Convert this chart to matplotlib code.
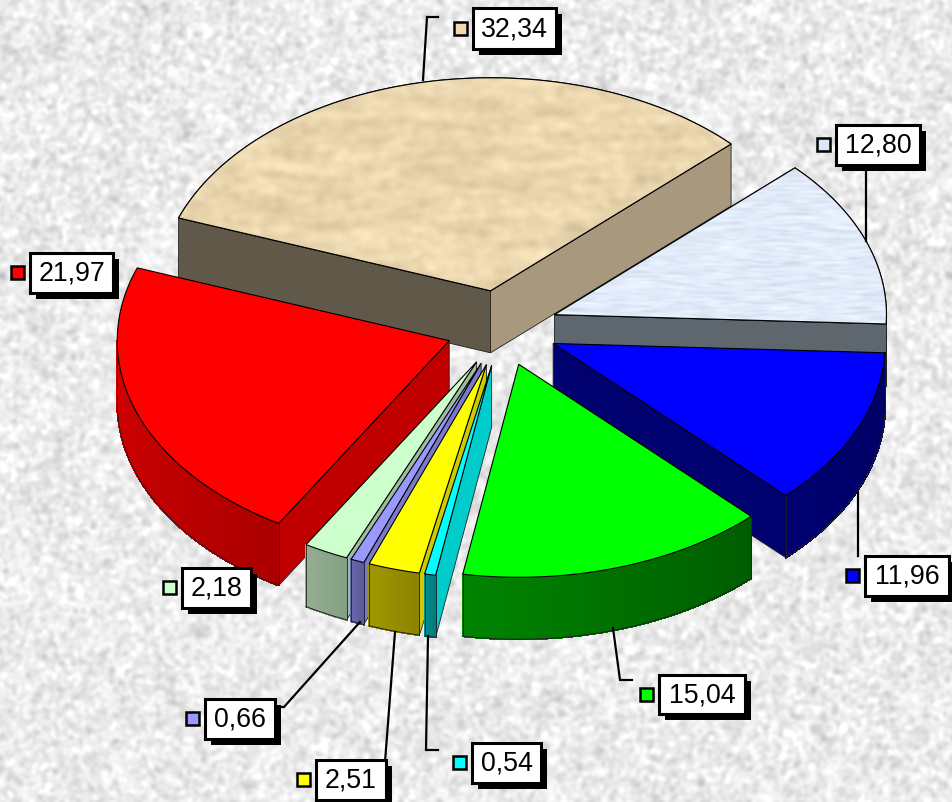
# 3D exploded pie, drawn by hand in pixel coordinates
import numpy as np
import matplotlib
matplotlib.use('Agg')
import matplotlib.pyplot as plt
from matplotlib.patches import Polygon, Rectangle

plt.rcParams['font.family'] = ['Liberation Sans', 'DejaVu Sans']

# data, clockwise from the first slice
values = [32.34, 12.80, 11.96, 15.04, 0.54, 2.51, 0.66, 2.18, 21.97]

# styles
top_colors = ['#ebd7af', '#e1ebfa', '#0000ff', '#00ff00', '#00ffff', '#ffff00', '#9999ff', '#ccffcc', '#ff0000']
key_colors = ['#f0d8b0', '#dce8fa', '#0000ff', '#00ff00', '#00ffff', '#ffff00', '#9999ff', '#ccffcc', '#ff0000']
cut_colors = ['#605848', '#5e666e', '#00006e', '#006000', '#00cccc', '#cccc00', '#7a7acc', '#a0bca0', '#c00000']
cut_right = ['#a8987e', '#5e666e', '#00006e', '#006000', '#00cccc', '#cccc00', '#7a7acc', '#a0bca0', '#c00000']
wall_left = ['#605848', '#5e666e', '#000070', '#008400', '#009090', '#a09800', '#6868ac', '#96ae92', '#d40000']
wall_right = ['#605848', '#5e666e', '#000064', '#005c00', '#007c7c', '#8c8400', '#5c5c9c', '#84a084', '#ac0000']

# back to front
draw_order = [0, 1, 2, 8, 7, 6, 5, 4, 3]

# layout: label box (left, top, right, bottom) and leader lines
boxes = [(473, 8, 556, 49), (836, 125, 920, 165), (865, 556, 949, 596), (659, 675, 745, 714),
         (472, 743, 541, 783), (316, 760, 386, 800), (205, 699, 275, 739), (182, 568, 251, 608), (30, 253, 113, 293)]
leaders = [[(423, 80), (427, 17), (438, 17)], [(866, 241), (866, 165)], [(858, 492), (858, 556)],
           [(613, 628), (620, 680), (632, 680)], [(428, 636), (426, 750), (438, 750)],
           [(395, 632), (385, 762)], [(360, 622), (284, 707), (275, 707)], None, None]

cx, cy = 502, 328
rx, ry = 332, 213
ex, ey = 56, 38
depth = 62
start = -70


def smooth_noise(h, w, sx, sy, seed):
    # texture only, blurred in frequency space
    rng = np.random.default_rng(seed)
    n = rng.standard_normal((h, w))
    fy = np.fft.fftfreq(h)[:, None]
    fx = np.fft.fftfreq(w)[None, :]
    g = np.exp(-2 * np.pi ** 2 * ((fx * sx) ** 2 + (fy * sy) ** 2))
    n = np.fft.ifft2(np.fft.fft2(n) * g).real
    return n / n.std()


def rim(ax_, ay, t):
    t = np.radians(t)
    return ax_ + rx * np.sin(t), ay - ry * np.cos(t)


def mix(c1, c2, f):
    a = np.array(matplotlib.colors.to_rgb(c1))
    b = np.array(matplotlib.colors.to_rgb(c2))
    return a + (b - a) * f


fig = plt.figure(figsize=(9.52, 8.02), dpi=100)
ax = fig.add_axes([0, 0, 1, 1])
ax.set_xlim(0, 952)
ax.set_ylim(802, 0)
ax.axis('off')

# paper background
bg = 235 + 9 * smooth_noise(802, 952, 2.2, 2.2, 1) + 2 * smooth_noise(802, 952, 9, 9, 2)
ax.imshow(np.clip(bg, 0, 255), cmap='gray', vmin=0, vmax=255, extent=(0, 952, 802, 0), aspect='auto', zorder=0)

# slice angles
edges = start + np.concatenate([[0], np.cumsum(values)]) * 3.6

z = 1
for i in draw_order:
    t0, t1 = edges[i], edges[i + 1]
    mid = np.radians((t0 + t1) / 2)
    ax_ = cx + ex * np.sin(mid)
    ay = cy - ey * np.cos(mid)

    ts = np.linspace(t0, t1, 80)
    rim_pts = [rim(ax_, ay, t) for t in ts]
    top = [(ax_, ay)] + rim_pts

    # cut faces
    for t, col, show in [(t0, cut_colors[i], np.sin(np.radians(t0)) < 0),
                         (t1, cut_right[i], np.sin(np.radians(t1)) > 0)]:
        if show:
            px, py = rim(ax_, ay, t)
            ax.add_patch(Polygon([(ax_, ay), (px, py), (px, py + depth), (ax_, ay + depth)],
                                 fc=col, ec='#202020', lw=0.6, zorder=z))

    # outer wall, shaded in thin strips
    wall_t = ts[np.cos(np.radians(ts)) < 0]
    if len(wall_t) > 1:
        # left of the picture first, so the shade runs left to right
        order = wall_t[::-1]
        for k in range(len(order) - 1):
            f = k / max(len(order) - 2, 1)
            c = mix(wall_left[i], wall_right[i], f)
            p1 = rim(ax_, ay, order[k])
            p2 = rim(ax_, ay, order[k + 1])
            ax.add_patch(Polygon([p1, p2, (p2[0], p2[1] + depth), (p1[0], p1[1] + depth)],
                                 fc=c, ec=c, lw=0.8, antialiased=False, zorder=z + 1))
        low = [(p[0], p[1] + depth) for p in (rim(ax_, ay, t) for t in order)]
        ax.plot([p[0] for p in low], [p[1] for p in low], color='#202020', lw=0.7, zorder=z + 1)
        for t in (order[0], order[-1]):
            px, py = rim(ax_, ay, t)
            ax.plot([px, px], [py, py + depth], color='#202020', lw=0.6, zorder=z + 1)

    # top face
    patch = Polygon(top, fc=top_colors[i], ec='black', lw=0.8, zorder=z + 2)
    ax.add_patch(patch)
    if i in (0, 1):
        base = np.array(matplotlib.colors.to_rgb(top_colors[i]))
        if i == 0:
            tex = 1.1 * smooth_noise(400, 800, 20, 6, 3) + 0.9 * smooth_noise(400, 800, 5, 5, 4)
        else:
            tex = 1.2 * smooth_noise(400, 800, 14, 2, 5)
        img = np.clip(base[None, None, :] + 0.016 * tex[:, :, None], 0, 1)
        xs = [p[0] for p in top]
        ys = [p[1] for p in top]
        im = ax.imshow(img, extent=(min(xs), max(xs), max(ys), min(ys)), aspect='auto', zorder=z + 2.5)
        im.set_clip_path(patch)
        ax.add_patch(Polygon(top, fc='none', ec='black', lw=0.8, zorder=z + 3))
    z += 5

# labels
for i, v in enumerate(values):
    l, t, r, b = boxes[i]
    if leaders[i]:
        ax.plot([p[0] for p in leaders[i]], [p[1] for p in leaders[i]], color='black', lw=1.6,
                solid_joinstyle='miter', zorder=z)
    ax.add_patch(Rectangle((l + 6, t + 6), r - l, b - t, fc='black', ec='black', lw=0, zorder=z + 1))
    ax.add_patch(Rectangle((l, t), r - l, b - t, fc='white', ec='black', lw=2.2, zorder=z + 2))
    ax.text((l + r) / 2, (t + b) / 2 + 0.5, f'{v:.2f}'.replace('.', ','), fontsize=19.3, color='black',
            ha='center', va='center', zorder=z + 3)
    ax.add_patch(Rectangle((l - 19, (t + b) / 2 - 7), 13, 13, fc=key_colors[i], ec='black', lw=1.8, zorder=z + 2))

fig.savefig('out.png', dpi=100)
